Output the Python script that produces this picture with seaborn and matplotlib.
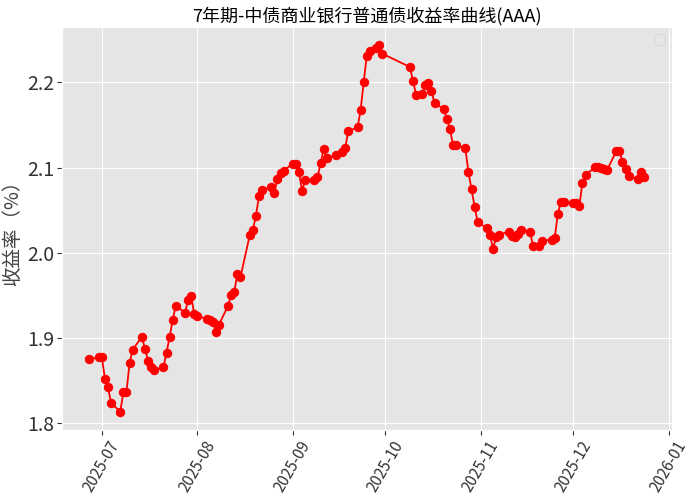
import matplotlib
matplotlib.use('Agg')
import matplotlib.pyplot as plt
import matplotlib.dates as mdates
import seaborn as sns
import pandas as pd

# 交易日 (incl. makeup trading days 9-28, 10-11)
dates = [
    '2025-06-27', '2025-06-30',
    '2025-07-01', '2025-07-02', '2025-07-03', '2025-07-04', '2025-07-07', '2025-07-08',
    '2025-07-09', '2025-07-10', '2025-07-11', '2025-07-14', '2025-07-15', '2025-07-16',
    '2025-07-17', '2025-07-18', '2025-07-21', '2025-07-22', '2025-07-23', '2025-07-24',
    '2025-07-25', '2025-07-28', '2025-07-29', '2025-07-30', '2025-07-31',
    '2025-08-01', '2025-08-04', '2025-08-05', '2025-08-06', '2025-08-07', '2025-08-08',
    '2025-08-11', '2025-08-12', '2025-08-13', '2025-08-14', '2025-08-15', '2025-08-18',
    '2025-08-19', '2025-08-20', '2025-08-21', '2025-08-22', '2025-08-25', '2025-08-26',
    '2025-08-27', '2025-08-28', '2025-08-29',
    '2025-09-01', '2025-09-02', '2025-09-03', '2025-09-04', '2025-09-05', '2025-09-08',
    '2025-09-09', '2025-09-10', '2025-09-11', '2025-09-12', '2025-09-15', '2025-09-17',
    '2025-09-18', '2025-09-19', '2025-09-22', '2025-09-23', '2025-09-24', '2025-09-25',
    '2025-09-26', '2025-09-28', '2025-09-29', '2025-09-30',
    '2025-10-09', '2025-10-10', '2025-10-11', '2025-10-13', '2025-10-14', '2025-10-15',
    '2025-10-16', '2025-10-17', '2025-10-20', '2025-10-21', '2025-10-22', '2025-10-23',
    '2025-10-24', '2025-10-27', '2025-10-28', '2025-10-29', '2025-10-30', '2025-10-31',
    '2025-11-03', '2025-11-04', '2025-11-05', '2025-11-06', '2025-11-07', '2025-11-10',
    '2025-11-11', '2025-11-12', '2025-11-13', '2025-11-14', '2025-11-17', '2025-11-18',
    '2025-11-20', '2025-11-21', '2025-11-24', '2025-11-25', '2025-11-26', '2025-11-27',
    '2025-11-28',
    '2025-12-01', '2025-12-02', '2025-12-03', '2025-12-04', '2025-12-05', '2025-12-08',
    '2025-12-09', '2025-12-10', '2025-12-11', '2025-12-12', '2025-12-15', '2025-12-16',
    '2025-12-17', '2025-12-18', '2025-12-19', '2025-12-22', '2025-12-23', '2025-12-24',
]

yields = [
    1.875, 1.8775,
    1.8775, 1.8526, 1.8425, 1.824, 1.8137, 1.837,
    1.837, 1.8705, 1.8865, 1.9014, 1.8877, 1.8737,
    1.866, 1.862, 1.866, 1.8827, 1.9014, 1.9213,
    1.938, 1.9295, 1.945, 1.949, 1.9283,
    1.9256, 1.9228, 1.9209, 1.9193, 1.9068, 1.9158,
    1.938, 1.9509, 1.954, 1.9754, 1.9716, 2.0203,
    2.0265, 2.043, 2.0663, 2.0737, 2.0772, 2.0706,
    2.0862, 2.0936, 2.0963,
    2.1045, 2.1045, 2.0942, 2.0729, 2.085, 2.0854,
    2.0885, 2.1049, 2.1213, 2.1108, 2.1146, 2.1178,
    2.1232, 2.1427, 2.147, 2.1673, 2.2004, 2.2308,
    2.2363, 2.2406, 2.2433, 2.2336,
    2.2179, 2.2015, 2.1856, 2.186, 2.1965, 2.1988,
    2.1903, 2.1751, 2.1688, 2.1564, 2.145, 2.1263,
    2.1263, 2.1224, 2.0944, 2.0745, 2.0538, 2.0359,
    2.0289, 2.021, 2.0047, 2.0191, 2.021, 2.0249,
    2.0199, 2.0184, 2.0219, 2.0269, 2.0246, 2.0074,
    2.0074, 2.0144, 2.0152, 2.0172, 2.0453, 2.06,
    2.06,
    2.0581, 2.0581, 2.055, 2.0822, 2.0912, 2.1002,
    2.1002, 2.099, 2.0979, 2.0971, 2.1193, 2.1193,
    2.1068, 2.0979, 2.09, 2.0865, 2.0944, 2.0885,
]

df = pd.DataFrame({'日期': pd.to_datetime(dates), '收益率': yields})

plt.style.use('ggplot')
plt.rcParams['font.family'] = ['Noto Sans CJK JP', 'DejaVu Sans']
plt.rcParams['axes.unicode_minus'] = False

fig, ax = plt.subplots(figsize=(6.94, 5), dpi=100)
sns.lineplot(x='日期', y='收益率', data=df, ax=ax, color='red',
             marker='o', markersize=6, markeredgecolor='red', linewidth=1.3)
ax.legend()

ax.set_title('7年期-中债商业银行普通债收益率曲线(AAA)', fontsize=13, color='black', pad=4)
ax.set_xlabel('')
ax.set_ylabel('收益率（%）', fontsize=14, color='#444444', labelpad=3)
ax.xaxis.set_major_locator(mdates.MonthLocator())
ax.xaxis.set_major_formatter(mdates.DateFormatter('%Y-%m'))
ax.tick_params(axis='x', labelsize=11, rotation=60, colors='#333333', pad=2)
ax.tick_params(axis='y', labelsize=14, colors='#333333', pad=2)
for lab in ax.get_xticklabels():
    lab.set_ha('center')

plt.subplots_adjust(left=0.089, right=0.968, top=0.946, bottom=0.14)
plt.savefig('out.png', dpi=100)
